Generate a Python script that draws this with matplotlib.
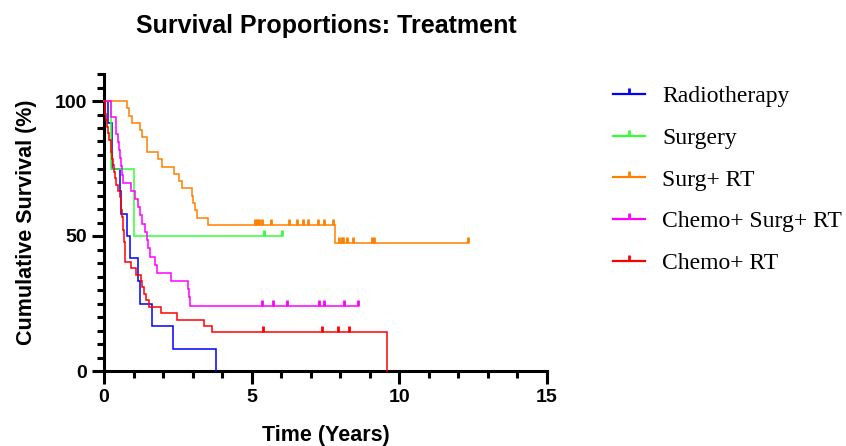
import matplotlib
matplotlib.use("Agg")
import matplotlib.pyplot as plt
from matplotlib.path import Path
from matplotlib.lines import Line2D
from matplotlib.ticker import MultipleLocator, FixedLocator

# ---------------- data ----------------
labels = ["Radiotherapy", "Surgery", "Surg+ RT", "Chemo+ Surg+ RT", "Chemo+ RT"]
colors = ["#0000FF", "#33FF33", "#FF8000", "#FF00FF", "#FF0000"]

rt_time = [0, 0.15, 0.26, 0.53, 0.58, 0.77, 0.88, 1.16, 1.21, 1.62, 2.33, 3.78]
rt_surv = [100, 91.7, 75.0, 66.7, 58.3, 50.0, 41.7, 33.3, 25.0, 16.7, 8.3, 0]
rt_cens_t = []
rt_cens_s = []

surg_time = [0, 0.24, 1.01, 6.02]
surg_surv = [100, 75, 50, 50]
surg_cens_t = [5.42, 6.02]
surg_cens_s = [50, 50]

srt_time = [0, 0.79, 0.86, 0.96, 1.22, 1.28, 1.45, 1.82, 1.96, 2.36, 2.53, 2.65,
            2.98, 3.03, 3.09, 3.15, 3.53, 7.81, 12.31]
srt_surv = [100, 97.3, 94.6, 91.9, 89.2, 86.5, 81.1, 78.4, 75.7, 73.0, 70.3, 67.6,
            64.9, 62.2, 59.5, 56.8, 54.1, 47.3, 47.3]
srt_cens_t = [5.10, 5.17, 5.24, 5.34, 5.67, 6.27, 6.55, 6.75, 6.92, 7.23, 7.46, 7.74,
              7.97, 8.05, 8.10, 8.22, 8.42, 9.08, 9.13, 12.31]
srt_cens_s = [54.1] * 12 + [47.3] * 8

csrt_time = [0, 0.25, 0.40, 0.47, 0.52, 0.55, 0.57, 0.62, 0.65, 0.93, 1.04, 1.16,
             1.22, 1.30, 1.38, 1.45, 1.50, 1.56, 1.72, 1.79, 2.28, 2.86, 2.88, 2.90, 8.60]
csrt_surv = [100, 93.9, 87.9, 84.8, 81.8, 78.8, 75.8, 72.7, 69.7, 66.7, 63.6, 60.6,
             57.6, 54.5, 51.5, 48.5, 45.5, 42.4, 39.4, 36.4, 33.3, 30.3, 27.3, 24.2, 24.2]
csrt_cens_t = [5.34, 5.71, 6.19, 7.29, 7.46, 8.14, 8.60]
csrt_cens_s = [24.2] * 7

crt_time = [0, 0.023, 0.045, 0.08, 0.113, 0.136, 0.17, 0.227, 0.25, 0.272,
            0.306, 0.34, 0.385, 0.42, 0.476, 0.53, 0.56, 0.59, 0.60, 0.63,
            0.646, 0.68, 0.69, 0.70, 0.71, 0.72, 0.91, 1.10, 1.25, 1.30,
            1.36, 1.42, 1.52, 1.93, 2.47, 3.38, 3.66, 9.58]
crt_surv = [100, 97.6, 95.2, 92.9, 90.5, 88.1, 85.7, 83.3, 81.0, 78.6,
            76.2, 73.8, 71.4, 69.0, 66.7, 64.3, 61.9, 59.5, 57.1, 54.8,
            52.4, 50.0, 47.6, 45.2, 42.9, 40.5, 38.1, 35.7, 33.3, 31.0,
            28.6, 26.2, 23.8, 21.4, 19.0, 16.7, 14.3, 0]
crt_cens_t = [5.39, 7.38, 7.94, 8.31]
crt_cens_s = [14.3] * 4

series = [
    (rt_time, rt_surv, rt_cens_t, rt_cens_s),
    (surg_time, surg_surv, surg_cens_t, surg_cens_s),
    (srt_time, srt_surv, srt_cens_t, srt_cens_s),
    (csrt_time, csrt_surv, csrt_cens_t, csrt_cens_s),
    (crt_time, crt_surv, crt_cens_t, crt_cens_s),
]

x_ticks = [0, 5, 10, 15]
y_ticks = [0, 50, 100]

# ---------------- plot ----------------
W, H = 846, 446
fig = plt.figure(figsize=(W / 100, H / 100), dpi=100)
ax = fig.add_axes([104 / W, 1 - 371 / H, (547 - 104) / W, (371 - 74) / H])

tick_marker = Path([(0, 0), (0, 1)], [Path.MOVETO, Path.LINETO])

for (t, s, ct, cs), col in zip(series, colors):
    ax.step(t, s, where="post", color=col, lw=1.1, solid_joinstyle="miter",
            clip_on=False, zorder=3)
    if ct:
        ax.plot(ct, cs, linestyle="none", marker=tick_marker, markersize=8.5,
                markeredgewidth=2.0, color=col, clip_on=False, zorder=3)

ax.set_xlim(0, 15)
ax.set_ylim(0, 110)
for side in ["top", "right"]:
    ax.spines[side].set_visible(False)
for side in ["left", "bottom"]:
    ax.spines[side].set_linewidth(2.2)
    ax.spines[side].set_capstyle("projecting")

ax.xaxis.set_major_locator(FixedLocator(x_ticks))
ax.xaxis.set_minor_locator(MultipleLocator(1))
ax.yaxis.set_major_locator(FixedLocator(y_ticks))
ax.yaxis.set_minor_locator(MultipleLocator(5))
ax.tick_params(which="major", length=9, width=2.2, direction="out", pad=3)
ax.tick_params(which="minor", length=5, width=2.2, direction="out")
ax.tick_params(axis="x", which="major", pad=4)

for lab in ax.get_xticklabels() + ax.get_yticklabels():
    lab.set_fontfamily("Liberation Sans")
    lab.set_fontweight("bold")
    lab.set_fontsize(14)

ax.set_xlabel("Time (Years)", fontfamily="Liberation Sans", fontweight="bold",
              fontsize=15.5, labelpad=14)
ax.set_ylabel("Cumulative Survival (%)", fontfamily="Liberation Sans",
              fontweight="bold", fontsize=15.5, labelpad=13)

fig.text(326 / W, 1 - 26 / H, "Survival Proportions: Treatment",
         fontfamily="Liberation Sans", fontweight="bold", fontsize=18,
         ha="center", va="center")

handles = [Line2D([0], [0], color=c, lw=1.6, marker=tick_marker, markersize=8,
                  markeredgewidth=2.0) for c in colors]
leg = fig.legend(handles, labels, loc="upper left",
                 bbox_to_anchor=(604 / W, 1 - 76 / H),
                 frameon=False, numpoints=1, handlelength=1.35,
                 handletextpad=0.72, labelspacing=0.86, borderaxespad=0,
                 prop={"family": "Liberation Serif", "size": 17})

fig.savefig("out.png", dpi=100)
